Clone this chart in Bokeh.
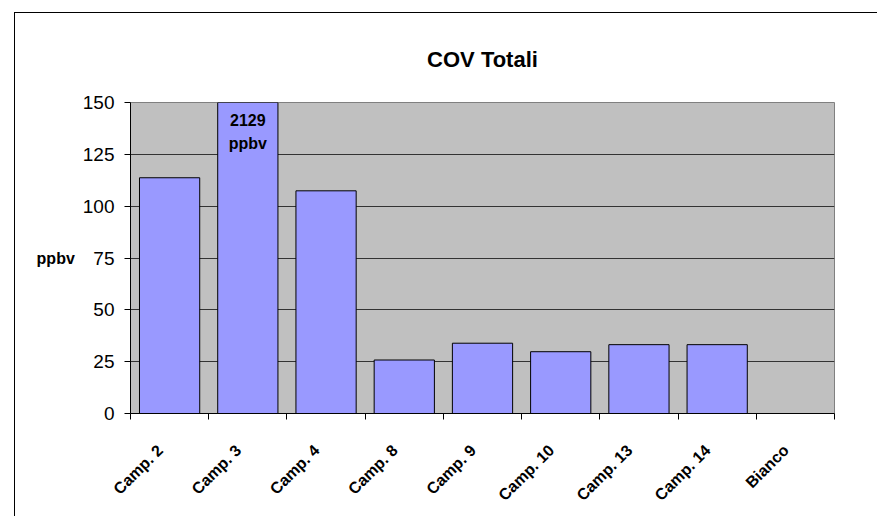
from math import pi
from bokeh.plotting import figure
from bokeh.models import (Range1d, LinearAxis, FixedTicker, ColumnDataSource)
from bokeh.core.properties import value
from bokeh.embed import file_html
from bokeh.resources import INLINE

# ---- data ----
categories = ["Camp. 2", "Camp. 3", "Camp. 4", "Camp. 8", "Camp. 9",
              "Camp. 10", "Camp. 13", "Camp. 14", "Bianco"]
values = [113.7, 2129, 107.4, 25.8, 33.9, 29.8, 33.2, 33.2, 0]
y_ticks = [0, 25, 50, 75, 100, 125, 150]
grid_ticks = [25, 50, 75, 100, 125]
title_text = "COV Totali"
y_label = "ppbv"
unit = "ppbv"

FONT = "Liberation Sans"
n = len(categories)
centers = [i + 0.5 for i in range(n)]
edges = list(range(n + 1))

p = figure(width=863, height=504, x_range=Range1d(0, n),
           y_range=Range1d(0, 150), output_backend="svg", toolbar_location=None,
           x_axis_location=None, y_axis_location=None,
           min_border_left=115, min_border_right=44, min_border_top=89, min_border_bottom=104)
p.styles = {"margin-left": "14px", "margin-top": "12px",
            "border-left": "1px solid black", "border-top": "1px solid black",
            "border-right": "none", "border-bottom": "none", "overflow": "hidden"}

p.background_fill_color = "#C0C0C0"
p.border_fill_color = "white"
p.outline_line_color = "#808080"
p.outline_line_width = 1
p.xgrid.visible = False

p.title.text = title_text
p.title.align = "center"
p.title.offset = 2
p.title.text_font = FONT
p.title.text_font_style = "bold"
p.title.text_font_size = "22px"
p.title.text_color = "black"
p.title.standoff = 62

# bars
src = ColumnDataSource(dict(x=centers, top=values, name=categories))
p.vbar(x="x", top="top", width=0.77, source=src, fill_color="#9999FF",
       line_color="black", line_width=1)

# y axis
yax = LinearAxis(ticker=FixedTicker(ticks=y_ticks), axis_label=y_label,
                 axis_label_orientation="horizontal",
                 axis_label_text_font=FONT, axis_label_text_font_style="bold",
                 axis_label_text_font_size="16px", axis_label_standoff=5,
                 axis_label_text_color="black",
                 major_label_text_font=FONT, major_label_text_font_size="19px",
                 major_label_text_color="black",
                 major_label_standoff=10, major_tick_out=6, major_tick_in=0,
                 minor_tick_line_color=None, axis_line_color="black",
                 major_tick_line_color="black")
p.add_layout(yax, "left")
p.ygrid.ticker = FixedTicker(ticks=grid_ticks)
p.ygrid.grid_line_color = "#333333"
p.ygrid.grid_line_width = 1

# x axis: category labels (rotated), tick marks at category boundaries (minor ticks)
label_pos = [c - 0.12 for c in centers]
xax = LinearAxis(ticker=FixedTicker(ticks=label_pos, minor_ticks=edges),
                 major_label_overrides={c: lab for c, lab in zip(label_pos, categories)},
                 major_tick_out=0, major_tick_in=0, major_tick_line_color=None,
                 minor_tick_out=6, minor_tick_in=0, minor_tick_line_color="black",
                 axis_line_color="black", major_label_orientation=pi / 4,
                 major_label_standoff=28, major_label_text_color="black",
                 major_label_text_font=FONT, major_label_text_font_style="bold",
                 major_label_text_font_size="16px")
p.add_layout(xax, "below")

# label on the clipped bar
idx = values.index(max(values))
p.text(x=[centers[idx]], y=[135.8], text=[f"{values[idx]}\n{unit}"],
       text_font=value(FONT), text_align="center", text_baseline="middle",
       text_font_size="16px", text_font_style="bold", text_color="black",
       text_line_height=1.35)

open("out.html", "w").write(file_html(p, INLINE))
